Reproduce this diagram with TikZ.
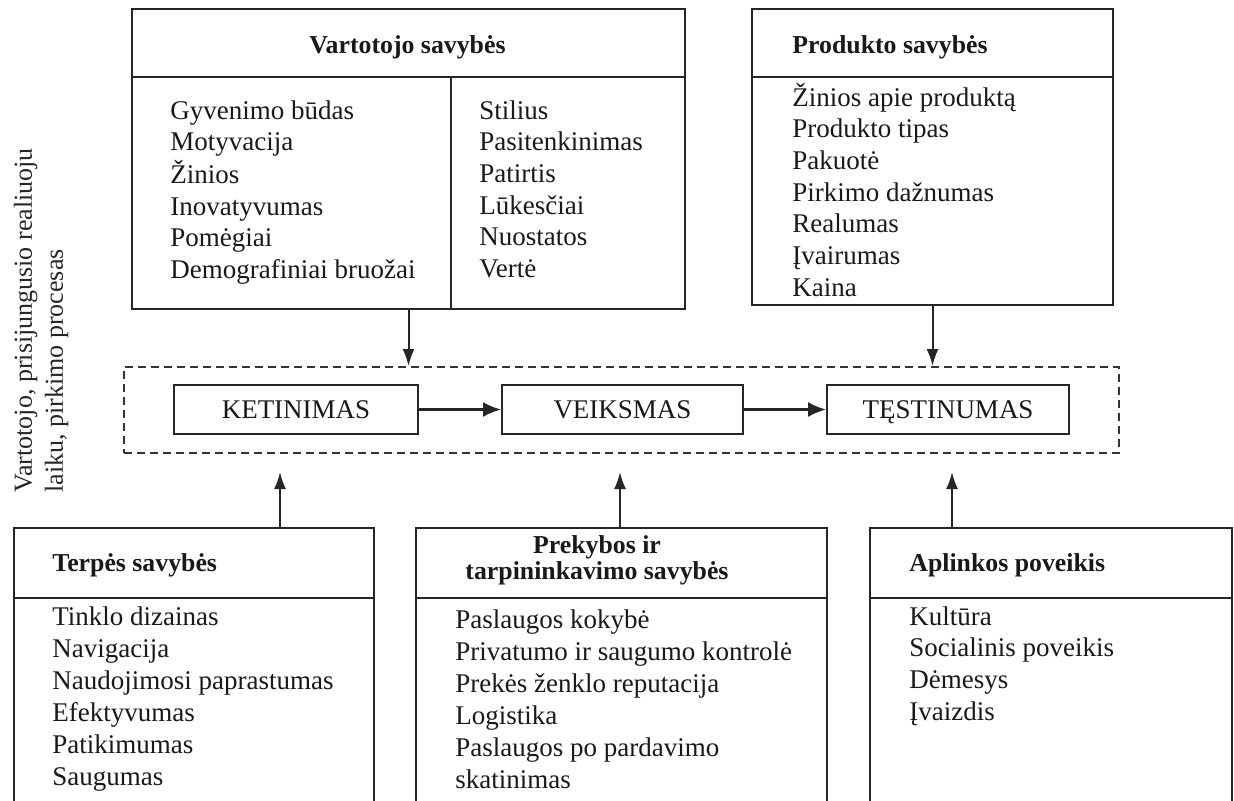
\documentclass[tikz,border=0pt]{standalone}
\usepackage{fontspec}
\setmainfont{Liberation Serif}
\usetikzlibrary{arrows.meta}

\begin{document}
\begin{tikzpicture}[x=0.5pt,y=-0.5pt,
  frame/.style={draw=black!85, line width=1pt, inner sep=0pt, anchor=north west},
  rule/.style={draw=black!85, line width=1pt},
  head/.style={font=\fontsize{12.9}{14.5}\selectfont\bfseries, inner sep=0pt, text=black!90},
  items/.style={font=\fontsize{13.5}{#1}\selectfont, inner sep=0pt, anchor=base west, text=black!90},
  items/.default=15.85pt,
  stage/.style={draw=black!85, line width=1pt, inner sep=0pt, anchor=north west,
    minimum height=24.5pt, text depth=0pt, font=\fontsize{13.5}{15}\selectfont, text=black!90},
  flow/.style={draw=black!85, line width=1.1pt, -{Latex[length=9pt,width=7.5pt]}},
  feed/.style={draw=black!85, line width=1pt, -{Latex[length=8.5pt,width=6pt]}}
]
\useasboundingbox (0,0) rectangle (1234,800);
\clip (0,0) rectangle (1234,800);

% side caption, read bottom to top
\node[font=\fontsize{13}{15.5}\selectfont, rotate=90, anchor=base west, inner sep=0pt, text=black!85]
  (side) at (32,493)
  {\begin{tabular}[t]{@{}l@{}}Vartotojo, prisijungusio realiuoju\\laiku, pirkimo procesas\end{tabular}};

% consumer characteristics
\node[frame, minimum width=276.5pt, minimum height=150pt] (vart) at (131,8) {};
\draw[rule] (131,77) -- (684,77);
\draw[rule] (451,77) -- (451,308);
\node[head, anchor=base] (vartH) at (407.5,53) {Vartotojo savybės};
\node[items] (vartL) at (170,119) {\begin{tabular}[t]{@{}l@{}}Gyvenimo būdas\\Motyvacija\\Žinios\\Inovatyvumas\\Pomėgiai\\Demografiniai bruožai\end{tabular}};
\node[items] (vartR) at (479,119) {\begin{tabular}[t]{@{}l@{}}Stilius\\Pasitenkinimas\\Patirtis\\Lūkesčiai\\Nuostatos\\Vertė\end{tabular}};

% product characteristics
\node[frame, minimum width=180.5pt, minimum height=148pt] (prod) at (751,8) {};
\draw[rule] (751,77) -- (1112,77);
\node[head, anchor=base west] (prodH) at (792,53) {Produkto savybės};
\node[items] (prodL) at (792,106) {\begin{tabular}[t]{@{}l@{}}Žinios apie produktą\\Produkto tipas\\Pakuotė\\Pirkimo dažnumas\\Realumas\\Įvairumas\\Kaina\end{tabular}};

% purchase process
\node[frame, draw=black!80, line width=0.8pt, dash pattern=on 4pt off 2.5pt,
  minimum width=497.5pt, minimum height=43pt] (proc) at (123,366) {};
\node[stage, minimum width=122pt] (ket) at (173,384) {KETINIMAS};
\node[stage, minimum width=120.5pt] (vei) at (501,384) {VEIKSMAS};
\node[stage, minimum width=121pt] (tes) at (826,384) {TĘSTINUMAS};
\draw[flow] (ket) -- (vei);
\draw[flow] (vei) -- (tes);

\draw[feed] (vart.south) -- (vart.south |- proc.north);
\draw[feed] (prod.south) -- (prod.south |- proc.north);

% medium characteristics
\node[frame, minimum width=180pt, minimum height=150pt] (terp) at (13,527) {};
\draw[rule] (13,598) -- (373,598);
\node[head, anchor=base west] (terpH) at (52,571) {Terpės savybės};
\node[items=16pt] (terpL) at (52,625) {\begin{tabular}[t]{@{}l@{}}Tinklo dizainas\\Navigacija\\Naudojimosi paprastumas\\Efektyvumas\\Patikimumas\\Saugumas\end{tabular}};

% retail and intermediary characteristics
\node[frame, minimum width=205.5pt, minimum height=150pt] (prek) at (415,527) {};
\draw[rule] (415,598) -- (826,598);
\node[head, anchor=base] (prekH) at (597,553) {\begin{tabular}[t]{@{}c@{}}Prekybos ir\\[-1.3pt]tarpininkavimo savybės\end{tabular}};
\node[items=16pt] (prekL) at (455,628) {\begin{tabular}[t]{@{}l@{}}Paslaugos kokybė\\Privatumo ir saugumo kontrolė\\Prekės ženklo reputacija\\Logistika\\Paslaugos po pardavimo\\skatinimas\end{tabular}};

% environmental influences
\node[frame, minimum width=181pt, minimum height=150pt] (apl) at (869,527) {};
\draw[rule] (869,598) -- (1231,598);
\node[head, anchor=base west] (aplH) at (909,571) {Aplinkos poveikis};
\node[items] (aplL) at (909,625) {\begin{tabular}[t]{@{}l@{}}Kultūra\\Socialinis poveikis\\Dėmesys\\Įvaizdis\end{tabular}};

% upward influences on the process
\coordinate (up1) at (280,472);
\coordinate (up2) at (620,472);
\coordinate (up3) at (952,472);
\draw[feed] (terp.north -| up1) -- (up1);
\draw[feed] (prek.north -| up2) -- (up2);
\draw[feed] (apl.north -| up3) -- (up3);
\end{tikzpicture}
\end{document}
